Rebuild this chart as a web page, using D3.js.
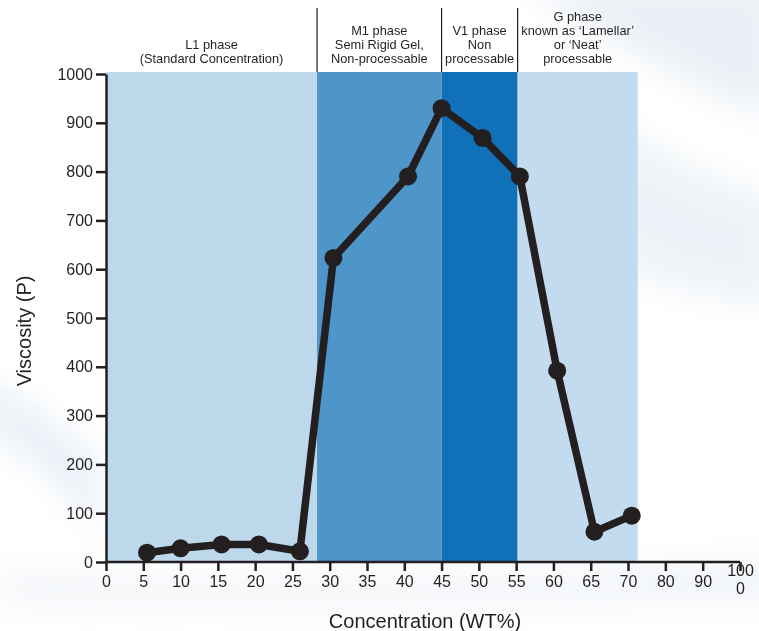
<!DOCTYPE html>
<html>
<head>
<meta charset="utf-8">
<script src="https://cdn.jsdelivr.net/npm/d3@7"></script>
<style>
  body { margin: 0; background: #fff; }
  svg { display: block; font-family: "Liberation Sans", Arial, sans-serif; }
  .axis path, .axis line { stroke: #231f20; stroke-width: 2.5; }
  .axis text { fill: #231f20; font-size: 16px; font-family: "Liberation Sans", Arial, sans-serif; }
  .phase-label { fill: #231f20; font-size: 12.8px; text-anchor: middle; }
  .axis-title { fill: #231f20; font-size: 20px; text-anchor: middle; }
</style>
</head>
<body>
<svg id="chart" width="759" height="631"></svg>
<script>
// concentration (WT%) vs viscosity (P)
var concentration = [5.5, 10, 15.5, 20.5, 26, 30.5, 40.5, 45, 50.5, 55.5, 60.5, 65.5, 71];
var viscosity = [19, 28, 36, 36, 22, 623, 790, 930, 869, 790, 392, 62, 95];

var xTicks = [0, 5, 10, 15, 20, 25, 30, 35, 40, 45, 50, 55, 60, 65, 70, 80, 90, 100];
var yTicks = [0, 100, 200, 300, 400, 500, 600, 700, 800, 900, 1000];

var phaseNames = ['L1', 'M1', 'V1', 'G'];
var phaseStart = [0, 28.3, 45, 55.2];
var phaseEnd = [28.3, 45, 55.2, 72.6];
var phaseColors = ['#bdd7eb', '#4e95c9', '#1070b8', '#c3dbee'];
var phaseText = [
    ['L1 phase', '(Standard Concentration)'],
    ['M1 phase', 'Semi Rigid Gel,', 'Non-processable'],
    ['V1 phase', 'Non', 'processable'],
    ['G phase', 'known as \u2018Lamellar\u2019', 'or \u2018Neat\u2019', 'processable']
];

var svg = d3.select('#chart');

// x axis is stretched up to 70, compressed afterwards
var x = d3.scaleLinear().domain([0, 70, 100]).range([106, 628, 740]);
var y = d3.scaleLinear().domain([0, 1000]).range([562, 74]);

// soft background streaks
var defs = svg.append('defs');
defs.append('filter')
    .attr('id', 'blur')
    .attr('x', '-20%').attr('y', '-20%').attr('width', '140%').attr('height', '140%')
    .append('feGaussianBlur').attr('stdDeviation', 18);

var streaks = svg.append('g').attr('filter', 'url(#blur)');
streaks.append('path')
    .attr('d', 'M520,-20 L780,-20 L780,120 C700,90 610,40 520,-20 Z')
    .attr('fill', '#dfe8f1').attr('opacity', 0.7);
streaks.append('path')
    .attr('d', 'M600,120 C660,150 720,190 780,200 L780,300 C720,300 660,290 600,250 Z')
    .attr('fill', '#e4ecf3').attr('opacity', 0.7);
streaks.append('path')
    .attr('d', 'M-20,420 C30,450 70,490 100,530 L100,470 C60,430 20,400 -20,380 Z')
    .attr('fill', '#dde8f2').attr('opacity', 0.8);
streaks.append('path')
    .attr('d', 'M0,575 C200,585 500,585 780,560 L780,595 C500,605 250,605 0,600 Z')
    .attr('fill', '#e8eef5').attr('opacity', 0.8);

// phase bands
svg.append('g').selectAll('rect')
    .data(phaseNames)
    .enter().append('rect')
        .attr('x', function(d, i) { return x(phaseStart[i]); })
        .attr('y', 72)
        .attr('width', function(d, i) { return x(phaseEnd[i]) - x(phaseStart[i]); })
        .attr('height', y(0) - 72)
        .attr('fill', function(d, i) { return phaseColors[i]; });

// dividers between header labels
svg.append('g').selectAll('line')
    .data(phaseStart.slice(1))
    .enter().append('line')
        .attr('x1', function(d) { return x(d); })
        .attr('x2', function(d) { return x(d); })
        .attr('y1', 8)
        .attr('y2', 72)
        .attr('stroke', '#231f20')
        .attr('stroke-width', 1.2);

// header labels, bottom-aligned
var labels = svg.append('g').selectAll('text')
    .data(phaseNames)
    .enter().append('text')
        .attr('class', 'phase-label')
        .attr('transform', function(d, i) {
            return 'translate(' + (x(phaseStart[i]) + x(phaseEnd[i])) / 2 + ',0)';
        });
labels.selectAll('tspan')
    .data(function(d, i) { return phaseText[i]; })
    .enter().append('tspan')
        .attr('x', 0)
        .attr('y', function(d, j, nodes) { return 63 - (nodes.length - 1 - j) * 14; })
        .text(function(d) { return d; });

// axes
var xAxis = svg.append('g')
    .attr('class', 'axis')
    .attr('transform', 'translate(0,' + y(0) + ')')
    .call(d3.axisBottom(x).tickValues(xTicks).tickSize(9).tickSizeOuter(0).tickPadding(5));
xAxis.select('.domain').attr('d', 'M' + x(0) + ',0H' + x(100));
xAxis.selectAll('.tick text')
    .text(function(d) { return d === 100 ? '' : d; })
    .filter(function(d) { return d === 100; })
    .each(function() {
        var t = d3.select(this);
        t.append('tspan').attr('x', 0).attr('dy', 0).text('100');
        t.append('tspan').attr('x', 0).attr('dy', '1.1em').text('0');
    });

var yAxis = svg.append('g')
    .attr('class', 'axis')
    .attr('transform', 'translate(' + x(0) + ',0)')
    .call(d3.axisLeft(y).tickValues(yTicks).tickFormat(d3.format('d'))
        .tickSize(10).tickSizeOuter(0).tickPadding(3));

// axis titles
svg.append('text')
    .attr('class', 'axis-title')
    .attr('x', 425)
    .attr('y', 628)
    .text('Concentration (WT%)');
svg.append('text')
    .attr('class', 'axis-title')
    .attr('transform', 'translate(31,331) rotate(-90)')
    .text('Viscosity (P)');

// series
var points = concentration.map(function(c, i) { return [c, viscosity[i]]; });
var line = d3.line()
    .x(function(d) { return x(d[0]); })
    .y(function(d) { return y(d[1]); });

svg.append('path')
    .datum(points)
    .attr('d', line)
    .attr('fill', 'none')
    .attr('stroke', '#231f20')
    .attr('stroke-width', 7.5)
    .attr('stroke-linejoin', 'round');

svg.append('g').selectAll('circle')
    .data(points)
    .enter().append('circle')
        .attr('cx', function(d) { return x(d[0]); })
        .attr('cy', function(d) { return y(d[1]); })
        .attr('r', 9)
        .attr('fill', '#231f20');
</script>
</body>
</html>
